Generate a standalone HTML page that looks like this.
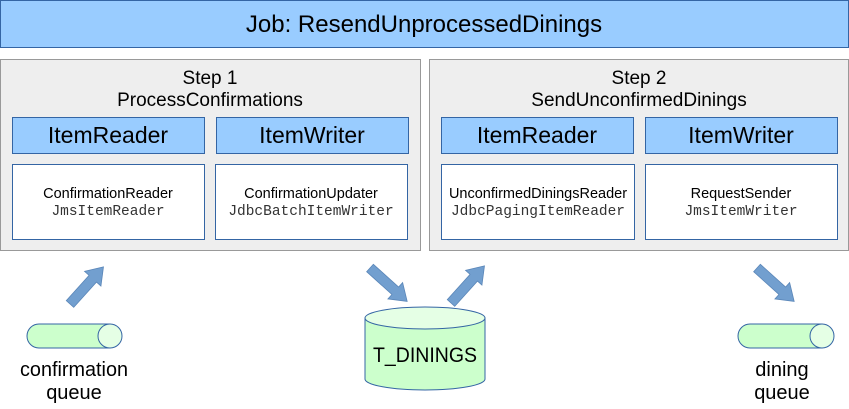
<!DOCTYPE html>
<html><head><meta charset="utf-8"><style>
body{margin:0;background:#fff}
svg{display:block;font-family:"Liberation Sans",sans-serif}
.m{font-family:"Liberation Mono",monospace;fill:#333}
</style></head><body>
<svg width="849" height="409" viewBox="0 0 849 409">
<defs>
<g id="ar"><polygon points="0,-5 34,-5 34,-11 50,0 34,11 34,5 0,5" fill="#729fcf" stroke="#5a86b8" stroke-width="0.8"/></g>
</defs>
<rect x="0.5" y="0.5" width="848" height="47" fill="#99ccff" stroke="#3465a4"/>
<text x="424" y="32" font-size="24" text-anchor="middle">Job: ResendUnprocessedDinings</text>

<rect x="0.5" y="59.5" width="420" height="191" fill="#eeeeee" stroke="#999"/>
<rect x="429.5" y="59.5" width="419" height="191" fill="#eeeeee" stroke="#999"/>
<text x="210" y="84" font-size="19" text-anchor="middle">Step 1</text>
<text x="210" y="106" font-size="19" text-anchor="middle">ProcessConfirmations</text>
<text x="639" y="84" font-size="19" text-anchor="middle">Step 2</text>
<text x="639" y="106" font-size="19" text-anchor="middle">SendUnconfirmedDinings</text>

<g stroke="#3465a4" fill="#99ccff">
<rect x="12.5" y="117.5" width="192" height="36"/>
<rect x="216.5" y="117.5" width="192" height="36"/>
<rect x="441.5" y="117.5" width="192" height="36"/>
<rect x="645.5" y="117.5" width="192" height="36"/>
</g>
<g font-size="23" text-anchor="middle">
<text x="108" y="143">ItemReader</text><text x="312" y="143">ItemWriter</text>
<text x="537" y="143">ItemReader</text><text x="741" y="143">ItemWriter</text>
</g>
<g stroke="#3465a4" fill="#fff">
<rect x="12.5" y="164.5" width="192" height="75"/>
<rect x="215.5" y="164.5" width="192" height="75"/>
<rect x="441.5" y="164.5" width="193" height="75"/>
<rect x="645.5" y="164.5" width="192" height="75"/>
</g>
<g font-size="14.5" text-anchor="middle">
<text x="108" y="198">ConfirmationReader</text><text class="m" x="108" y="215">JmsItemReader</text>
<text x="311" y="198">ConfirmationUpdater</text><text class="m" x="311" y="215">JdbcBatchItemWriter</text>
<text x="538" y="198">UnconfirmedDiningsReader</text><text class="m" x="538" y="215">JdbcPagingItemReader</text>
<text x="741" y="198">RequestSender</text><text class="m" x="741" y="215">JmsItemWriter</text>
</g>

<use href="#ar" transform="translate(70,304) rotate(-48)"/>
<use href="#ar" transform="translate(370,268) rotate(42)"/>
<use href="#ar" transform="translate(451,303) rotate(-48)"/>
<use href="#ar" transform="translate(757,268) rotate(42)"/>

<path d="M365,318 L365,379 A60,11 0 0 0 485,379 L485,318" fill="#ccffcc" stroke="#3465a4"/>
<ellipse cx="425" cy="318" rx="60" ry="11" fill="#e5ffe5" stroke="#3465a4"/>
<text x="425" y="362" font-size="21" text-anchor="middle" textLength="104" lengthAdjust="spacingAndGlyphs">T_DININGS</text>

<g stroke="#3465a4">
<path d="M39,324 L110,324 L110,348 L39,348 A12,12 0 0 1 39,324Z" fill="#ccffcc"/>
<ellipse cx="110" cy="336" rx="12" ry="12" fill="#e5ffe5"/>
<path d="M750,324 L822,324 L822,348 L750,348 A12,12 0 0 1 750,324Z" fill="#ccffcc"/>
<ellipse cx="822" cy="336" rx="12" ry="12" fill="#e5ffe5"/>
</g>
<g font-size="20" text-anchor="middle">
<text x="74" y="376" textLength="108" lengthAdjust="spacingAndGlyphs">confirmation</text><text x="74" y="399">queue</text>
<text x="782" y="376">dining</text><text x="782" y="399">queue</text>
</g>
</svg>
</body></html>
